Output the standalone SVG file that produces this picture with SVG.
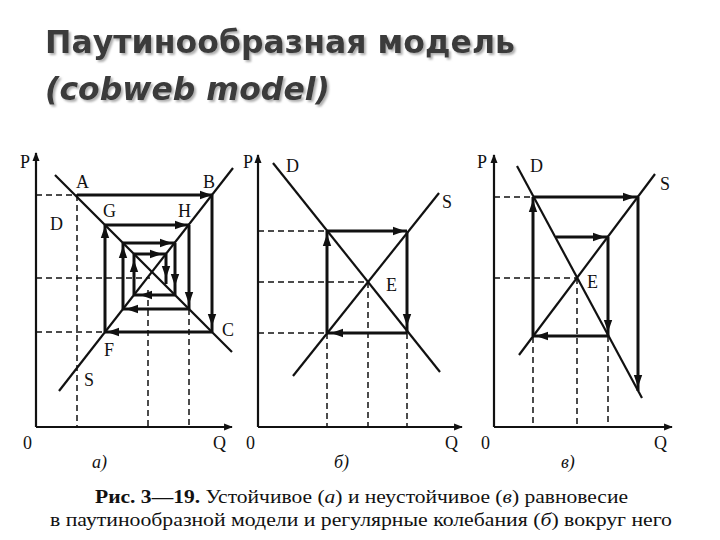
<svg xmlns="http://www.w3.org/2000/svg" width="720" height="540" viewBox="0 0 720 540">
<style>
.bg{fill:#ffffff}
.title{font-family:"DejaVu Sans","Liberation Sans",sans-serif;font-weight:bold;font-size:32px;fill:#3a3a3a;filter:url(#shadow)}
.lbl{font-family:"Liberation Serif",serif;font-size:18px;fill:#111}
.sub{font-family:"Liberation Serif",serif;font-size:18px;font-style:italic;fill:#111}
.cap{font-family:"Liberation Serif",serif;font-size:18px;fill:#111}
.axis{stroke:#111;stroke-width:2.2;fill:none}
.curve{stroke:#111;stroke-width:2.2;fill:none}
.web{stroke:#111;stroke-width:3;fill:none;marker-mid:url(#ah)}
.dash{stroke:#111;stroke-width:1.5;fill:none;stroke-dasharray:6,4}
</style>
<defs>
<filter id="shadow" x="-5%" y="-20%" width="115%" height="150%">
<feDropShadow dx="2" dy="2" stdDeviation="0.8" flood-color="#9a9a9a" flood-opacity="0.8"/>
</filter>
<marker id="ah" viewBox="0 0 10 10" refX="5" refY="5" markerWidth="4" markerHeight="4" orient="auto" markerUnits="strokeWidth">
<path d="M0,1.5 L10,5 L0,8.5 Z" fill="#111"/>
</marker>
<marker id="ax" viewBox="0 0 10 10" refX="9" refY="5" markerWidth="5" markerHeight="4" orient="auto" markerUnits="strokeWidth">
<path d="M0,1 L10,5 L0,9 Z" fill="#111"/>
</marker>
</defs>
<rect class="bg" x="0" y="0" width="720" height="540"/>

<g id="title">
<text class="title" x="45" y="53" textLength="470" lengthAdjust="spacingAndGlyphs">Паутинообразная модель</text>
<text class="title" x="45" y="100" font-style="italic" textLength="285" lengthAdjust="spacingAndGlyphs">(cobweb model)</text>
</g>

<!-- Panel a -->
<g id="panel-a">
<path class="axis" d="M36,427 L36,153" marker-end="url(#ax)"/>
<path class="axis" d="M36,427 L232,427" marker-end="url(#ax)"/>
<path class="dash" d="M36,195 H77 M36,332 H105 M36,278 H150 M77,195 V427 M148,290 V427 M189,309 V427"/>
<line class="curve" x1="55" y1="175" x2="232" y2="352"/>
<line class="curve" x1="59" y1="391" x2="233" y2="168"/>
<g id="cobweb-a">
<path class="web" d="M77,195 L206,195 L212,195"/>
<path class="web" d="M212,195 L212,320 L212,332"/>
<path class="web" d="M212,332 L113,332 L105,332"/>
<path class="web" d="M105,332 L105,232 L105,225"/>
<path class="web" d="M105,225 L181,225 L189,225"/>
<path class="web" d="M189,225 L189,298 L189,309"/>
<path class="web" d="M189,309 L132,309 L123,309"/>
<path class="web" d="M123,309 L123,252 L123,243"/>
<path class="web" d="M123,243 L166,243 L175,243"/>
<path class="web" d="M175,243 L175,280 L175,295"/>
<path class="web" d="M175,295 L146,295 L134,295"/>
<path class="web" d="M134,295 L134,266 L134,254"/>
<path class="web" d="M134,254 L156,254 L166,254"/>
<path class="web" d="M166,254 L166,272 L166,284"/>
</g>
<text class="lbl" x="20" y="168">P</text>
<text class="lbl" x="23" y="449">0</text>
<text class="lbl" x="213" y="449">Q</text>
<text class="lbl" x="76" y="188">A</text>
<text class="lbl" x="203" y="188">B</text>
<text class="lbl" x="50" y="230">D</text>
<text class="lbl" x="103" y="217">G</text>
<text class="lbl" x="178" y="217">H</text>
<text class="lbl" x="222" y="336">C</text>
<text class="lbl" x="104" y="356">F</text>
<text class="lbl" x="84" y="386">S</text>
<text class="sub" x="92" y="468">a)</text>
</g>

<!-- Panel b -->
<g id="panel-b">
<path class="axis" d="M258,427 L258,155" marker-end="url(#ax)"/>
<path class="axis" d="M258,427 L462,427" marker-end="url(#ax)"/>
<path class="dash" d="M258,231 H327 M258,282 H368 M258,333 H327 M368,282 V427 M407,333 V427"/>
<path class="dash" stroke-width="2.4" d="M327,333 V427"/>
<line class="curve" x1="273" y1="163" x2="440" y2="372"/>
<line class="curve" x1="293" y1="376" x2="439" y2="193"/>
<g id="cobweb-b">
<path class="web" d="M327,231 L399,231 L407,231"/>
<path class="web" d="M407,231 L407,320 L407,333"/>
<path class="web" d="M407,333 L337,333 L327,333"/>
<path class="web" d="M327,333 L327,240 L327,231"/>
</g>
<text class="lbl" x="243" y="168">P</text>
<text class="lbl" x="246" y="449">0</text>
<text class="lbl" x="445" y="449">Q</text>
<text class="lbl" x="286" y="172">D</text>
<text class="lbl" x="442" y="208">S</text>
<text class="lbl" x="386" y="291">E</text>
<text class="sub" x="334" y="468">б)</text>
</g>

<!-- Panel v -->
<g id="panel-v">
<path class="axis" d="M494,427 L494,155" marker-end="url(#ax)"/>
<path class="axis" d="M494,427 L672,427" marker-end="url(#ax)"/>
<path class="dash" d="M494,197 H533 M494,278 H577 M533,337 V427 M577,278 V427 M608,336 V427"/>
<line class="curve" x1="517" y1="166" x2="642" y2="398"/>
<line class="curve" x1="519" y1="355" x2="655" y2="174"/>
<g id="cobweb-v">
<path class="web" d="M556,237 L599,237 L608,237"/>
<path class="web" d="M608,237 L608,326 L608,336"/>
<path class="web" d="M608,336 L542,336 L533,336"/>
<path class="web" d="M533,336 L533,206 L533,197"/>
<path class="web" d="M533,197 L629,197 L638,197"/>
<path class="web" d="M638,197 L638,381 L638,391"/>
</g>
<text class="lbl" x="477" y="168">P</text>
<text class="lbl" x="481" y="449">0</text>
<text class="lbl" x="654" y="449">Q</text>
<text class="lbl" x="530" y="172">D</text>
<text class="lbl" x="660" y="190">S</text>
<text class="lbl" x="587" y="288">E</text>
<text class="sub" x="561" y="468">в)</text>
</g>

<g id="caption">
<text class="cap" x="95" y="503" textLength="533" lengthAdjust="spacingAndGlyphs"><tspan font-weight="bold">Рис. 3—19.</tspan> Устойчивое (<tspan font-style="italic">а</tspan>) и неустойчивое (<tspan font-style="italic">в</tspan>) равновесие</text>
<text class="cap" x="50" y="526" textLength="622" lengthAdjust="spacingAndGlyphs">в паутинообразной модели и регулярные колебания (<tspan font-style="italic">б</tspan>) вокруг него</text>
</g>
</svg>
